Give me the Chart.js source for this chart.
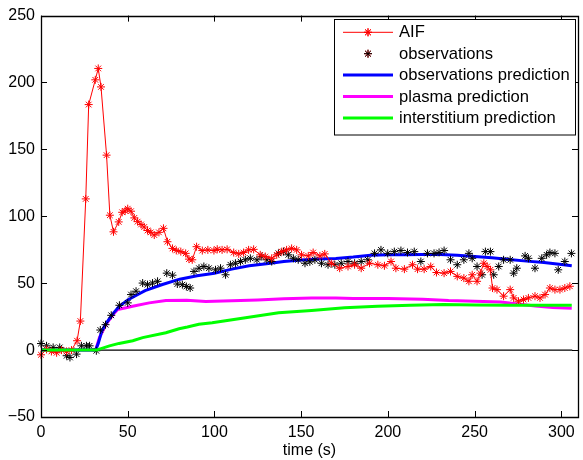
<!DOCTYPE html>
<html>
<head>
<meta charset="utf-8">
<script src="https://cdn.jsdelivr.net/npm/chart.js@4"></script>
<style>
html,body{margin:0;padding:0;background:#fff;}
#wrap{width:583px;height:460px;position:relative;}
</style>
</head>
<body>
<div id="wrap"><canvas id="c" width="583" height="460"></canvas></div>
<script>
// ---------- data ----------
const legendLabels = ["AIF", "observations", "observations prediction", "plasma prediction", "interstitium prediction"];
const xTicks = [0, 50, 100, 150, 200, 250, 300];
const yTicks = [-50, 0, 50, 100, 150, 200, 250];

const aifTime = [0,3.2,6,9,11.8,14.7,17.6,20.8,22.7,25.8,27.5,31.3,33,34.6,37.8,39.7,41.8,44.8,46.8,48.5,50,51.9,53.8,55.7,57.7,59.5,61.4,63.3,65.3,68,70.6,72.9,75.8,78,80.6,83.4,85.3,87.2,89.7,93,96.2,99.7,101.6,104.4,107.3,111.1,114,116.8,119.7,122.6,126.4,129.3,133,135.9,138.8,141.6,144.5,147.4,150.2,154.1,156.9,160.8,163.6,167.4,172.2,177,180.8,184.6,189.4,194.2,198,201.8,204.6,209.5,214.2,217.1,220.9,224.7,228,232.4,236.1,240,243.8,246.7,248.6,251.4,253.3,255.3,257.2,259.1,260.3,262.9,266.7,270.5,272.5,275.3,278.2,281,284.8,287.7,290.6,293.4,296.3,299.2,302,304.9];
const aifValues = [-3.5,0.5,-1,-2,0,-1,0,7,21.7,113,183.5,202,210.5,196.7,145.7,100.8,88.4,95.8,103,104,105.7,103.8,98.8,96,93.9,92,89.4,88,86,88,91,81,76,74.5,73.6,72.3,68,67.5,77.3,74.4,74.9,74.4,75.4,74.9,75.3,72.9,71.9,72.9,74.9,75.3,71.2,69.9,68.6,71.2,73.6,74.9,76,74.9,71.2,70.4,72.9,70.4,71.9,64.9,61.2,62.5,63.8,61.2,64.9,63.8,63,66.2,61.2,60.5,63.8,60.5,60.5,62.5,58,57.5,58.8,55.1,53.8,51.4,56.3,51.4,57.5,64.9,62.5,60,46.4,45.2,40.3,45.2,39,36.5,37.8,39,40.3,39,41.5,46.4,45.2,45.2,46.4,47.7];

const obsTime = [0,3.2,7,10.8,14.8,16.7,20.5,23.3,26.2,28,31.9,34.2,37.2,40.5,45.2,50,51.9,54.8,58.6,61.4,64.3,67.2,72.5,75.8,78.6,81.5,83.8,86,88.2,91.1,93.9,96.8,100.6,103.5,106.4,109.2,112.1,115,117.8,120.7,124.5,127.3,130.2,133,136.9,139.8,142.6,145.5,148.3,152.2,155,157.9,161.7,165.5,169.4,173.1,177,180.8,184.6,188.4,192.3,196,199.9,203.7,207.5,211.3,215.2,219,222.8,226.6,229.5,232.4,236.1,240,243.8,246.7,248.6,251.4,254.3,256.2,259.1,261,263.9,266.7,270.5,272.5,274.3,279.1,281,284.8,288.7,291.5,293.4,296.3,298.2,302,305.8];
const obsValues = [4.9,3.2,2,2,-4.2,-5.5,-3,3.2,3.2,3.2,-0.5,15,19,26,33.5,35.3,41.5,44,50.1,48.9,50.1,51.4,57.5,56,49.4,48.9,47.5,46.4,58.8,61.2,62.5,61.2,60,61.2,56.3,63.8,64.9,66.2,67.5,68.6,67.5,69.9,67.5,66.2,72.3,73.6,71.2,68.6,67.5,64.9,66,67.5,64.9,63.8,63.8,64.9,66.2,64.9,66.2,67.5,72.3,74.9,72.3,73.6,74.4,72.9,73.6,66.2,72.3,72.3,73,74.4,67.5,63.8,67.5,72.3,68.6,62.5,56.3,73.6,73.6,56.3,62.5,67.5,67.5,57.5,61.2,70.4,68.6,61.2,68.6,71.2,72.9,72.3,60,66.2,72.3];

const predTime  = [0,31.5,33,35,37,40,42,45,50,55,60,70,80,90,100,110,120,130,140,150,160,170,180,190,200,210,220,230,240,250,260,270,280,290,300,306];
const obsPred   = [0,0,5,14,19,24.5,28,32.5,37.5,41,44.5,49,53,55.5,57.5,60.5,63,64.5,66.2,67.3,68,68.5,69.5,70.8,71.2,71.2,71.5,71.5,70.8,70,69,67.8,66.5,65.5,64,63];

const plasmaTime = [0,31.5,33.7,37.5,41.3,44.2,49,52.8,62.4,72,84,95,110,125,140,156,170,180,200,220,235,250,265,275,285,295,306];
const plasmaPred = [0,0,9.3,19.3,26.2,30.4,31.6,32.8,35.3,37,37.3,36.3,36.8,37.4,38.3,39,39,38.5,38.5,38,37,36.5,36,34.5,33,31.8,31.3];

const interTime = [0,32,39.5,45,52.9,58.6,72,79.6,84.4,91,98.7,117.9,137,156,175,194,213,232,251,270,290,306];
const interPred = [0,0,3.2,5,7,9.3,13,16,17.3,19.3,20.5,24.2,27.9,29.6,31.6,32.8,33.6,34.1,33.8,33.6,33.6,33.6];

const zeroLineTime = [0, 306.3];
const zeroLineValues = [0, 0];

const xMin = 0, xMax = 309.6, yMin = -50, yMax = 250;

// ---------- helpers ----------
const pts = (xs, ys) => xs.map((x, i) => ({x: x, y: ys[i]}));
const FONT = "'Liberation Sans', Arial, Helvetica, sans-serif";

const datasets = [
  {label: "zero", data: pts(zeroLineTime, zeroLineValues), borderColor: "#000", borderWidth: 1.4, pointRadius: 0, order: 10, clip: false},
  {label: legendLabels[0], data: pts(aifTime, aifValues), borderColor: "#ff0000", backgroundColor: "#ff0000", borderWidth: 1,
    pointStyle: "star", pointRadius: 4, pointBorderColor: "#ff0000", pointBorderWidth: 1, order: 1, clip: false},
  {label: legendLabels[1], data: pts(obsTime, obsValues), borderColor: "#000", backgroundColor: "#000", showLine: false,
    pointStyle: "star", pointRadius: 4, pointBorderColor: "#000", pointBorderWidth: 1, order: 2, clip: false},
  {label: legendLabels[2], data: pts(predTime, obsPred), borderColor: "#0000ff", borderWidth: 3, pointRadius: 0, order: 3, clip: false},
  {label: legendLabels[3], data: pts(plasmaTime, plasmaPred), borderColor: "#ff00ff", borderWidth: 3, pointRadius: 0, order: 4, clip: false},
  {label: legendLabels[4], data: pts(interTime, interPred), borderColor: "#00ff00", borderWidth: 3, pointRadius: 0, order: 0, clip: false}
];

// axes box + inward ticks (MATLAB style)
const boxPlugin = {
  id: "box",
  afterDatasetsDraw(chart) {
    const {ctx, chartArea: a, scales: {x, y}} = chart;
    ctx.save();
    ctx.strokeStyle = "#000";
    ctx.lineWidth = 1.3;
    ctx.beginPath();
    ctx.rect(Math.round(a.left) + 0.5, Math.round(a.top) + 0.5, Math.round(a.right - a.left), Math.round(a.bottom - a.top));
    ctx.stroke();
    const tl = 6;
    ctx.lineWidth = 1;
    ctx.beginPath();
    xTicks.forEach(v => {
      const px = Math.round(x.getPixelForValue(v)) + 0.5;
      ctx.moveTo(px, a.bottom); ctx.lineTo(px, a.bottom - tl);
      ctx.moveTo(px, a.top); ctx.lineTo(px, a.top + tl);
    });
    yTicks.forEach(v => {
      const py = Math.round(y.getPixelForValue(v)) + 0.5;
      ctx.moveTo(a.left, py); ctx.lineTo(a.left + tl, py);
      ctx.moveTo(a.right, py); ctx.lineTo(a.right - tl, py);
    });
    ctx.stroke();
    ctx.restore();
  }
};

// legend box in the upper right (MATLAB style)
const legendPlugin = {
  id: "mlegend",
  afterDraw(chart) {
    const ctx = chart.ctx;
    const bx = 334.5, by = 19.5, bw = 241, bh = 115.5;
    ctx.save();
    ctx.fillStyle = "#fff";
    ctx.fillRect(bx, by, bw, bh);
    ctx.strokeStyle = "#000";
    ctx.lineWidth = 1;
    ctx.strokeRect(bx, by, bw, bh);
    const x0 = 343, x1 = 393, tx = 399;
    ctx.font = "16.6px " + FONT;
    ctx.textBaseline = "middle";
    ctx.textAlign = "left";
    for (let i = 0; i < 5; i++) {
      const ds = chart.data.datasets[i + 1];
      const yy = 32.3 + i * 21.4;
      if (ds.showLine !== false) {
        ctx.strokeStyle = ds.borderColor;
        ctx.lineWidth = ds.borderWidth;
        ctx.beginPath(); ctx.moveTo(x0, yy); ctx.lineTo(x1, yy); ctx.stroke();
      }
      if (ds.pointRadius > 0) {
        Chart.helpers.drawPoint(ctx, {pointStyle: "star", radius: ds.pointRadius, borderWidth: 1, rotation: 0},
          (x0 + x1) / 2, yy);
        ctx.strokeStyle = ds.pointBorderColor;
        ctx.lineWidth = 1;
        ctx.stroke();
      }
      ctx.fillStyle = "#000";
      ctx.fillText(ds.label, tx, yy + 0.5);
    }
    ctx.restore();
  }
};

new Chart(document.getElementById("c"), {
  type: "line",
  data: {datasets: datasets},
  options: {
    responsive: false,
    animation: false,
    devicePixelRatio: 1,
    layout: {padding: {top: 12, right: 2, left: 0, bottom: 0}},
    plugins: {legend: {display: false}, tooltip: {enabled: false}},
    elements: {line: {tension: 0}},
    scales: {
      x: {
        type: "linear", min: xMin, max: xMax,
        afterFit: s => { s.height = 43; },
        afterBuildTicks: s => { s.ticks = xTicks.map(v => ({value: v})); },
        grid: {display: false, drawTicks: false},
        border: {display: false},
        ticks: {color: "#000", font: {family: FONT, size: 16}, padding: 6, maxRotation: 0, autoSkip: false},
        title: {display: true, text: "time (s)", color: "#000", font: {family: FONT, size: 16}, padding: {top: 0, bottom: 0}}
      },
      y: {
        type: "linear", min: yMin, max: yMax,
        afterFit: s => { s.width = 41; },
        afterBuildTicks: s => { s.ticks = yTicks.map(v => ({value: v})); },
        grid: {display: false, drawTicks: false},
        border: {display: false},
        ticks: {color: "#000", font: {family: FONT, size: 16}, padding: 6, autoSkip: false,
          callback: v => v < 0 ? "\u2212" + Math.abs(v) : String(v)}
      }
    }
  },
  plugins: [boxPlugin, legendPlugin]
});
</script>
</body>
</html>
